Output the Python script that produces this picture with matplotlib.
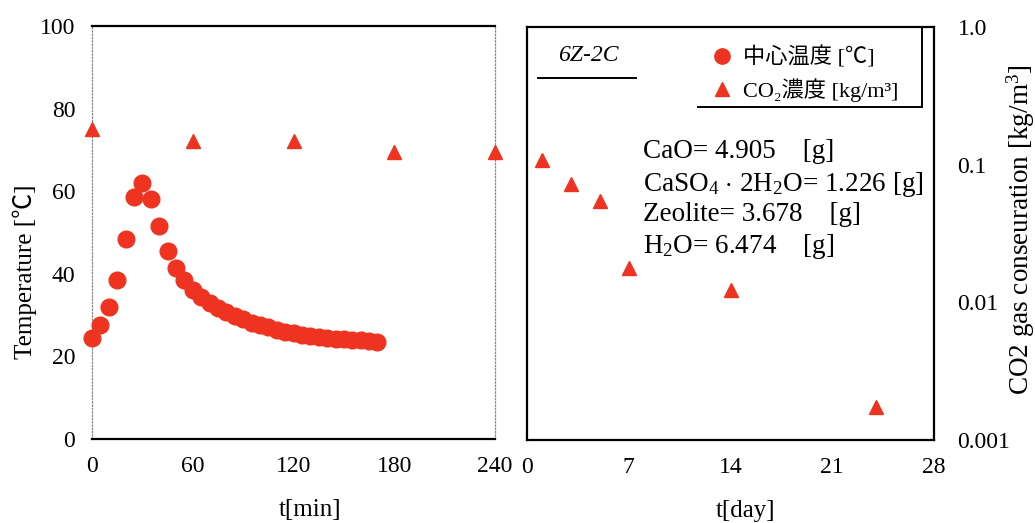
import matplotlib
matplotlib.use("Agg")
import matplotlib.pyplot as plt
from matplotlib.lines import Line2D

# ---- data -------------------------------------------------------------
# centre temperature during the first hours [min, degC]
t_min = [0, 5, 10, 15, 20, 25, 30, 35, 40, 45, 50, 55, 60, 65, 70, 75, 80,
         85, 90, 95, 100, 105, 110, 115, 120, 125, 130, 135, 140, 145, 150,
         155, 160, 165, 170]
temp_c = [24.5, 27.5, 32.0, 38.5, 48.5, 58.5, 62.0, 58.0, 51.5, 45.5, 41.5,
          38.5, 36.0, 34.5, 33.0, 31.8, 30.7, 29.8, 29.0, 28.2, 27.5, 27.0,
          26.5, 26.0, 25.6, 25.2, 24.9, 24.6, 24.4, 24.2, 24.1, 24.0, 23.9,
          23.8, 23.6]

# CO2 concentration during the first hours [min, kg/m3]
co2_t_min = [0, 60, 120, 180, 240]
co2_min = [0.18, 0.145, 0.145, 0.122, 0.122]

# CO2 concentration over the following days [day, kg/m3]
co2_t_day = [1, 3, 5, 7, 14, 24]
co2_day = [0.108, 0.072, 0.054, 0.0178, 0.0123, 0.00174]

min_ticks = [0, 60, 120, 180, 240]
temp_ticks = [0, 20, 40, 60, 80, 100]
day_ticks = [0, 7, 14, 21, 28]
co2_ticks = [0.001, 0.01, 0.1, 1.0]
co2_tick_labels = ["0.001", "0.01", "0.1", "1.0"]

composition = [r"CaO= 4.905    [g]",
               r"CaSO$_4$ $\cdot$ 2H$_2$O= 1.226 [g]",
               r"Zeolite= 3.678    [g]",
               r"H$_2$O= 6.474    [g]"]
composition_y = [0.698, 0.618, 0.546, 0.468]

# ---- style ------------------------------------------------------------
SERIF = ["Liberation Serif", "Noto Sans CJK JP", "DejaVu Sans"]
plt.rcParams["font.family"] = SERIF
plt.rcParams["mathtext.fontset"] = "custom"
plt.rcParams["mathtext.rm"] = "Liberation Serif"
plt.rcParams["mathtext.it"] = "Liberation Serif:italic"
RED = "#ee3420"
TICK_FS = 17
LABEL_FS = 18

fig = plt.figure(figsize=(10.35, 5.23), dpi=100)

# ---- left panel: temperature and CO2 over minutes ----------------------
ax1 = fig.add_axes([0.0889, 0.1606, 0.3894, 0.7897])
ax1.plot(t_min, temp_c, "o", color=RED, ms=12, mec=RED, clip_on=False, zorder=3)
ax1.set_xlim(0, 240)
ax1.set_ylim(0, 100)
ax1.set_xticks(min_ticks)
ax1.set_yticks(temp_ticks)
ax1.tick_params(length=0, labelsize=TICK_FS, pad=12)
for s in ("top", "bottom"):
    ax1.spines[s].set_linewidth(1.6)
for s in ("left", "right"):
    ax1.spines[s].set_linestyle(":")
    ax1.spines[s].set_color("#888888")
    ax1.spines[s].set_linewidth(0.9)
ax1.set_ylabel("Temperature [℃]", fontsize=LABEL_FS, va="center")
ax1.yaxis.set_label_coords(-0.166, 0.404)
ax1.set_xlabel("t[min]", fontsize=LABEL_FS, va="center")
ax1.xaxis.set_label_coords(0.541, -0.172)

ax1b = ax1.twinx()
ax1b.set_yscale("log")
ax1b.set_ylim(0.001, 1.0)
ax1b.plot(co2_t_min, co2_min, "^", color=RED, ms=10, clip_on=False, zorder=3)
ax1b.set_yticks([])
ax1b.minorticks_off()
for s in ax1b.spines.values():
    s.set_visible(False)

# ---- right panel: CO2 over days -----------------------------------------
ax2 = fig.add_axes([0.5092, 0.1587, 0.3932, 0.7897])
ax2.set_yscale("log")
ax2.plot(co2_t_day, co2_day, "^", color=RED, ms=10, zorder=3)
ax2.set_xlim(0, 28)
ax2.set_ylim(0.001, 1.0)
ax2.set_xticks(day_ticks)
ax2.set_yticks(co2_ticks)
ax2.set_yticklabels(co2_tick_labels)
ax2.minorticks_off()
ax2.yaxis.tick_right()
ax2.yaxis.set_label_position("right")
ax2.tick_params(axis="x", length=0, labelsize=TICK_FS, pad=12)
ax2.tick_params(axis="y", length=0, labelsize=TICK_FS, pad=17)
for s in ax2.spines.values():
    s.set_linewidth(1.6)
ax2.set_xlabel("t[day]", fontsize=LABEL_FS, va="center")
ax2.xaxis.set_label_coords(0.538, -0.172)
ax2.set_ylabel("CO2 gas conseuration [kg/m$^3$]", fontsize=19.5,
               rotation=90, va="center", ha="center")
ax2.yaxis.set_label_coords(1.213, 0.508)

# sample tag with underline
ax2.text(0.15, 0.932, "6Z-2C", transform=ax2.transAxes, fontsize=TICK_FS,
         style="italic", ha="center", va="center")
ax2.add_line(Line2D([0.027, 0.268], [0.877, 0.877], transform=ax2.transAxes,
                    color="black", lw=1.4))

# legend
handles = [Line2D([], [], marker="o", ls="none", color=RED, ms=11),
           Line2D([], [], marker="^", ls="none", color=RED, ms=10)]
labels = ["中心温度 [℃]", "CO₂濃度 [kg/m³]"]
leg = ax2.legend(handles, labels, loc="upper left", bbox_to_anchor=(0.43, 0.975),
                 frameon=False, handletextpad=0.45,
                 labelspacing=0.45, borderaxespad=0, handlelength=1.0,
                 prop={"family": SERIF, "size": 16})
ax2.add_line(Line2D([0.42, 0.97], [0.806, 0.806], transform=ax2.transAxes,
                    color="black", lw=1.4))
ax2.add_line(Line2D([0.97, 0.97], [0.806, 1.0], transform=ax2.transAxes,
                    color="black", lw=1.4))

# mixture composition
for line, yy in zip(composition, composition_y):
    ax2.text(0.285, yy, line, transform=ax2.transAxes, fontsize=19.5,
             ha="left", va="center")

fig.savefig("out.png", dpi=100)
